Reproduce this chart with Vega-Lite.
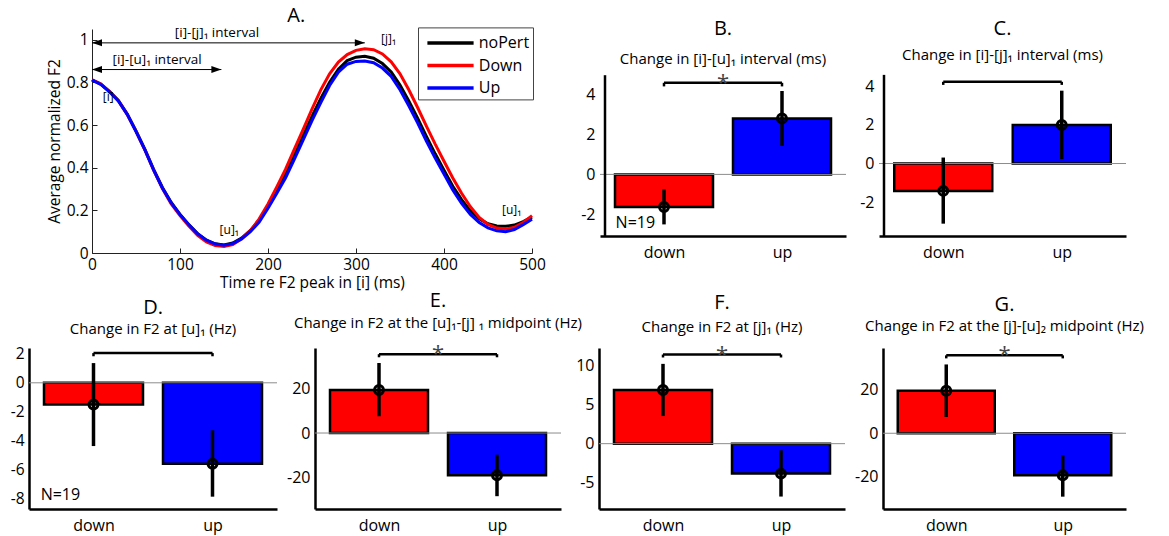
{
  "$schema": "https://vega.github.io/schema/vega-lite/v6.json",
  "autosize": {"type": "pad"},
  "padding": {"left": 10, "top": 5, "right": 5, "bottom": 5},
  "background": "white",
  "config": {
    "view": {"stroke": null},
    "font": "Open Sans",
    "axis": {"grid": false, "domainColor": "black", "domainWidth": 2.5, "ticks": false, "labelFontSize": 16, "labelColor": "black", "labelFont": "Open Sans", "labelPadding": 5, "labelOverlap": false, "titleFontWeight": "normal", "titleColor": "black", "titleFont": "Open Sans", "labelFlush": false},
    "title": {"font": "Open Sans", "fontSize": 20, "fontWeight": "normal", "color": "black", "subtitleFont": "Open Sans", "subtitleFontSize": 15, "subtitleColor": "black", "frame": "group"},
    "text": {"font": "Open Sans", "color": "black"}
  },
  "datasets": {
    "curves": [
      {"t": 0, "noPert": 0.812, "Down": 0.812, "Up": 0.81},
      {"t": 10, "noPert": 0.792, "Down": 0.792, "Up": 0.79},
      {"t": 20, "noPert": 0.757, "Down": 0.757, "Up": 0.755},
      {"t": 30, "noPert": 0.715, "Down": 0.713, "Up": 0.713},
      {"t": 40, "noPert": 0.652, "Down": 0.65, "Up": 0.65},
      {"t": 50, "noPert": 0.572, "Down": 0.57, "Up": 0.57},
      {"t": 60, "noPert": 0.487, "Down": 0.484, "Up": 0.485},
      {"t": 70, "noPert": 0.392, "Down": 0.388, "Up": 0.39},
      {"t": 80, "noPert": 0.307, "Down": 0.302, "Up": 0.305},
      {"t": 90, "noPert": 0.237, "Down": 0.23, "Up": 0.235},
      {"t": 100, "noPert": 0.181, "Down": 0.175, "Up": 0.18},
      {"t": 110, "noPert": 0.133, "Down": 0.126, "Up": 0.132},
      {"t": 120, "noPert": 0.091, "Down": 0.083, "Up": 0.09},
      {"t": 130, "noPert": 0.06, "Down": 0.052, "Up": 0.06},
      {"t": 140, "noPert": 0.043, "Down": 0.035, "Up": 0.042},
      {"t": 150, "noPert": 0.038, "Down": 0.031, "Up": 0.036},
      {"t": 160, "noPert": 0.047, "Down": 0.04, "Up": 0.044},
      {"t": 170, "noPert": 0.07, "Down": 0.066, "Up": 0.066},
      {"t": 180, "noPert": 0.106, "Down": 0.105, "Up": 0.1},
      {"t": 190, "noPert": 0.153, "Down": 0.16, "Up": 0.145},
      {"t": 200, "noPert": 0.22, "Down": 0.23, "Up": 0.21},
      {"t": 210, "noPert": 0.292, "Down": 0.31, "Up": 0.28},
      {"t": 220, "noPert": 0.37, "Down": 0.393, "Up": 0.353},
      {"t": 230, "noPert": 0.458, "Down": 0.487, "Up": 0.44},
      {"t": 240, "noPert": 0.55, "Down": 0.58, "Up": 0.53},
      {"t": 250, "noPert": 0.64, "Down": 0.675, "Up": 0.62},
      {"t": 260, "noPert": 0.725, "Down": 0.765, "Up": 0.705},
      {"t": 270, "noPert": 0.8, "Down": 0.84, "Up": 0.785},
      {"t": 280, "noPert": 0.862, "Down": 0.895, "Up": 0.848},
      {"t": 290, "noPert": 0.902, "Down": 0.93, "Up": 0.885},
      {"t": 300, "noPert": 0.918, "Down": 0.95, "Up": 0.898},
      {"t": 310, "noPert": 0.922, "Down": 0.957, "Up": 0.9},
      {"t": 320, "noPert": 0.913, "Down": 0.953, "Up": 0.892},
      {"t": 330, "noPert": 0.888, "Down": 0.933, "Up": 0.867},
      {"t": 340, "noPert": 0.848, "Down": 0.896, "Up": 0.828},
      {"t": 350, "noPert": 0.787, "Down": 0.84, "Up": 0.765},
      {"t": 360, "noPert": 0.713, "Down": 0.765, "Up": 0.69},
      {"t": 370, "noPert": 0.632, "Down": 0.682, "Up": 0.61},
      {"t": 380, "noPert": 0.547, "Down": 0.595, "Up": 0.525},
      {"t": 390, "noPert": 0.465, "Down": 0.51, "Up": 0.445},
      {"t": 400, "noPert": 0.388, "Down": 0.43, "Up": 0.37},
      {"t": 410, "noPert": 0.313, "Down": 0.352, "Up": 0.296},
      {"t": 420, "noPert": 0.25, "Down": 0.28, "Up": 0.233},
      {"t": 430, "noPert": 0.197, "Down": 0.217, "Up": 0.181},
      {"t": 440, "noPert": 0.16, "Down": 0.167, "Up": 0.143},
      {"t": 450, "noPert": 0.137, "Down": 0.134, "Up": 0.118},
      {"t": 460, "noPert": 0.127, "Down": 0.117, "Up": 0.104},
      {"t": 470, "noPert": 0.125, "Down": 0.112, "Up": 0.1},
      {"t": 480, "noPert": 0.131, "Down": 0.12, "Up": 0.11},
      {"t": 490, "noPert": 0.147, "Down": 0.143, "Up": 0.133},
      {"t": 500, "noPert": 0.168, "Down": 0.175, "Up": 0.158}
    ],
    "bars": [
      {"panel": "B", "cond": "down", "i": 1, "mean": -1.63, "lo": -2.5, "hi": -0.75},
      {"panel": "B", "cond": "up", "i": 2, "mean": 2.8, "lo": 1.42, "hi": 4.17},
      {"panel": "C", "cond": "down", "i": 1, "mean": -1.42, "lo": -3.12, "hi": 0.31},
      {"panel": "C", "cond": "up", "i": 2, "mean": 2.0, "lo": 0.23, "hi": 3.78},
      {"panel": "D", "cond": "down", "i": 1, "mean": -1.49, "lo": -4.36, "hi": 1.36},
      {"panel": "D", "cond": "up", "i": 2, "mean": -5.58, "lo": -7.85, "hi": -3.27},
      {"panel": "E", "cond": "down", "i": 1, "mean": 19.5, "lo": 7.6, "hi": 31.7},
      {"panel": "E", "cond": "up", "i": 2, "mean": -19.1, "lo": -28.6, "hi": -9.8},
      {"panel": "F", "cond": "down", "i": 1, "mean": 6.9, "lo": 3.55, "hi": 10.26},
      {"panel": "F", "cond": "up", "i": 2, "mean": -3.85, "lo": -6.8, "hi": -0.85},
      {"panel": "G", "cond": "down", "i": 1, "mean": 19.6, "lo": 7.5, "hi": 31.8},
      {"panel": "G", "cond": "up", "i": 2, "mean": -19.4, "lo": -29.3, "hi": -10.1}
    ],
    "brackets": [
      {"panel": "B", "top": 4.58, "foot": 4.4, "star": true},
      {"panel": "C", "top": 4.24, "foot": 4.08, "star": false},
      {"panel": "D", "top": 2.05, "foot": 1.83, "star": false},
      {"panel": "E", "top": 35.7, "foot": 34.3, "star": true},
      {"panel": "F", "top": 11.46, "foot": 11.08, "star": true},
      {"panel": "G", "top": 36.0, "foot": 34.6, "star": true}
    ]
  },
  "spacing": 319,
  "bounds": "flush",
  "resolve": {"scale": {"color": "independent"}, "legend": {"color": "independent"}},
  "vconcat": [
    {
      "spacing": 0,
      "bounds": "flush",
      "resolve": {"scale": {"color": "independent"}, "legend": {"color": "independent"}},
      "hconcat": [
        {"width": 63, "height": 10, "data": {"values": []}, "mark": "point"},
        {
          "width": 440,
          "height": 224,
          "title": {"text": "A.", "frame": "bounds", "offset": 0.8},
          "layer": [
            {
              "data": {"name": "curves"},
              "transform": [{"fold": ["noPert", "Down", "Up"], "as": ["cond", "v"]}],
              "mark": {"type": "line", "strokeWidth": 3},
              "encoding": {
                "x": {"field": "t", "type": "quantitative", "scale": {"domain": [0, 500], "nice": false, "zero": false},
                      "axis": {"values": [0, 100, 200, 300, 400, 500], "title": "Time re F2 peak in [i] (ms)", "titleFontSize": 15.5, "titlePadding": 3, "labelFontSize": 15.5, "labelOverlap": false, "domainWidth": 1, "domainColor": "#222", "ticks": true, "tickSize": -5, "tickColor": "#222", "labelPadding": 9}},
                "y": {"field": "v", "type": "quantitative", "scale": {"domain": [0, 1.05], "nice": false, "zero": false},
                      "axis": {"values": [0, 0.2, 0.4, 0.6, 0.8, 1], "labelExpr": "toString(datum.value)", "labelFontSize": 15.5, "labelOverlap": false, "title": "Average normalized F2", "titleFontSize": 15.5, "titlePadding": 4, "domainWidth": 1, "domainColor": "#222", "ticks": true, "tickSize": -5, "tickColor": "#222", "labelPadding": 9}},
                "color": {"field": "cond", "type": "nominal", "sort": null,
                          "scale": {"domain": ["noPert", "Down", "Up"], "range": ["#000000", "#ff0000", "#0000ff"]},
                          "legend": {"orient": "none", "legendX": 326, "legendY": -1.6, "title": null, "labelFontSize": 16, "labelFont": "Open Sans", "labelColor": "black", "strokeColor": "#444", "fillColor": "white", "padding": 3.2, "symbolType": "M-2.2,0L2.2,0", "symbolSize": 441, "symbolStrokeWidth": 3.5, "symbolOffset": 16.8, "labelOffset": 15.8, "rowPadding": 1.5}}
              }
            },
            {"data": {"values": [{}]}, "mark": {"type": "rule", "color": "black", "strokeWidth": 1},
             "encoding": {"x": {"datum": 0}, "x2": {"datum": 310}, "y": {"datum": 0.985}}},
            {"data": {"values": [{}]}, "mark": {"type": "rule", "color": "black", "strokeWidth": 1},
             "encoding": {"x": {"datum": 0}, "x2": {"datum": 147}, "y": {"datum": 0.86}}},
            {"data": {"values": [{}]}, "mark": {"type": "point", "shape": "M0,0L2,-0.7L2,0.7Z", "filled": true, "color": "black", "size": 100, "opacity": 1},
             "encoding": {"x": {"datum": 0}, "y": {"datum": 0.985}}},
            {"data": {"values": [{}]}, "mark": {"type": "point", "shape": "M0,0L-2,-0.7L-2,0.7Z", "filled": true, "color": "black", "size": 100, "opacity": 1},
             "encoding": {"x": {"datum": 310}, "y": {"datum": 0.985}}},
            {"data": {"values": [{}]}, "mark": {"type": "point", "shape": "M0,0L2,-0.7L2,0.7Z", "filled": true, "color": "black", "size": 100, "opacity": 1},
             "encoding": {"x": {"datum": 0}, "y": {"datum": 0.86}}},
            {"data": {"values": [{}]}, "mark": {"type": "point", "shape": "M0,0L-2,-0.7L-2,0.7Z", "filled": true, "color": "black", "size": 100, "opacity": 1},
             "encoding": {"x": {"datum": 147}, "y": {"datum": 0.86}}},
            {"data": {"values": [{}]}, "mark": {"type": "text", "text": "[i]-[j]₁ interval", "fontSize": 13.5, "align": "center", "baseline": "middle"},
             "encoding": {"x": {"datum": 142}, "y": {"datum": 1.029}}},
            {"data": {"values": [{}]}, "mark": {"type": "text", "text": "[i]-[u]₁ interval", "fontSize": 13.5, "align": "center", "baseline": "middle"},
             "encoding": {"x": {"datum": 74}, "y": {"datum": 0.904}}},
            {"data": {"values": [{}]}, "mark": {"type": "text", "text": "[i]", "fontSize": 12, "align": "center", "baseline": "middle"},
             "encoding": {"x": {"datum": 18.5}, "y": {"datum": 0.73}}},
            {"data": {"values": [{}]}, "mark": {"type": "text", "text": "[u]₁", "fontSize": 12, "align": "center", "baseline": "middle"},
             "encoding": {"x": {"datum": 156}, "y": {"datum": 0.107}}},
            {"data": {"values": [{}]}, "mark": {"type": "text", "text": "[j]₁", "fontSize": 12, "align": "center", "baseline": "middle"},
             "encoding": {"x": {"datum": 337}, "y": {"datum": 1.005}}},
            {"data": {"values": [{}]}, "mark": {"type": "text", "text": "[u]₁", "fontSize": 12, "align": "center", "baseline": "middle"},
             "encoding": {"x": {"datum": 477}, "y": {"datum": 0.2}}}
          ]
        },
        {"width": 68, "height": 10, "data": {"values": []}, "mark": "point"},
        {
          "width": 246, "height": 207,
          "title": {"text": "B.", "subtitle": "Change in [i]-[u]₁ interval (ms)", "offset": -37.5, "subtitlePadding": 13},
          "layer": [
            {"data": {"name": "bars"}, "transform": [{"filter": "datum.panel === 'B'"}],
             "mark": {"type": "bar", "size": 98, "stroke": "black", "strokeWidth": 2.5},
             "encoding": {
               "x": {"field": "i", "type": "quantitative", "scale": {"domain": [0.5, 2.5], "nice": false, "zero": false}, "axis": {"values": [1, 2], "labelExpr": "datum.value == 1 ? 'down' : 'up'", "title": null, "labelPadding": 8}},
               "y": {"field": "mean", "type": "quantitative", "scale": {"domain": [-3.08, 7.27], "nice": false, "zero": false}, "axis": {"values": [-2, 0, 2, 4], "labelExpr": "toString(datum.value)", "labelOverlap": false, "title": null, "domain": false}},
               "y2": {"datum": 0},
               "color": {"field": "cond", "type": "nominal", "scale": {"domain": ["down", "up"], "range": ["#ff0000", "#0000ff"]}, "legend": null}
             }},
            {"data": {"values": [{}]}, "mark": {"type": "rule", "color": "#8c8c8c", "strokeWidth": 1}, "encoding": {"y": {"datum": 0}}},
            {"data": {"values": [{}]}, "mark": {"type": "rule", "color": "black", "strokeWidth": 2.5}, "encoding": {"x": {"datum": 0.5}, "y": {"datum": -3.08}, "y2": {"datum": 4.96}}},
            {"data": {"name": "bars"}, "transform": [{"filter": "datum.panel === 'B'"}],
             "mark": {"type": "rule", "color": "black", "strokeWidth": 3.5},
             "encoding": {"x": {"field": "i", "type": "quantitative"}, "y": {"field": "lo", "type": "quantitative"}, "y2": {"field": "hi"}}},
            {"data": {"name": "bars"}, "transform": [{"filter": "datum.panel === 'B'"}],
             "mark": {"type": "point", "filled": false, "color": "black", "strokeWidth": 3, "size": 80, "opacity": 1},
             "encoding": {"x": {"field": "i", "type": "quantitative"}, "y": {"field": "mean", "type": "quantitative"}}},
            {"data": {"name": "brackets"}, "transform": [{"filter": "datum.panel === 'B'"}],
             "mark": {"type": "rule", "color": "black", "strokeWidth": 2.5},
             "encoding": {"x": {"datum": 1}, "x2": {"datum": 2}, "y": {"field": "top", "type": "quantitative"}}},
            {"data": {"name": "brackets"}, "transform": [{"filter": "datum.panel === 'B'"}],
             "mark": {"type": "rule", "color": "black", "strokeWidth": 2.5},
             "encoding": {"x": {"datum": 1}, "y": {"field": "top", "type": "quantitative"}, "y2": {"field": "foot"}}},
            {"data": {"name": "brackets"}, "transform": [{"filter": "datum.panel === 'B'"}],
             "mark": {"type": "rule", "color": "black", "strokeWidth": 2.5},
             "encoding": {"x": {"datum": 2}, "y": {"field": "top", "type": "quantitative"}, "y2": {"field": "foot"}}},
            {"data": {"name": "brackets"}, "transform": [{"filter": "datum.panel === 'B' && datum.star"}],
             "mark": {"type": "text", "text": "*", "fontSize": 22, "color": "#444", "align": "center", "baseline": "middle"},
             "encoding": {"x": {"datum": 1.5}, "y": {"field": "top", "type": "quantitative"}}},
            {"data": {"values": [{}]}, "mark": {"type": "text", "text": "N=19", "fontSize": 16, "align": "left", "baseline": "middle"},
             "encoding": {"x": {"datum": 0.59}, "y": {"datum": -2.44}}}
          ]
        },
        {"width": 33, "height": 10, "data": {"values": []}, "mark": "point"},
        {
          "width": 247, "height": 207,
          "title": {"text": "C.", "subtitle": "Change in [i]-[j]₁ interval (ms)", "offset": -34, "subtitlePadding": 9},
          "layer": [
            {"data": {"name": "bars"}, "transform": [{"filter": "datum.panel === 'C'"}],
             "mark": {"type": "bar", "size": 98, "stroke": "black", "strokeWidth": 2.5},
             "encoding": {
               "x": {"field": "i", "type": "quantitative", "scale": {"domain": [0.5, 2.5], "nice": false, "zero": false}, "axis": {"values": [1, 2], "labelExpr": "datum.value == 1 ? 'down' : 'up'", "title": null, "labelPadding": 8}},
               "y": {"field": "mean", "type": "quantitative", "scale": {"domain": [-3.76, 6.98], "nice": false, "zero": false}, "axis": {"values": [-2, 0, 2, 4], "labelExpr": "toString(datum.value)", "labelOverlap": false, "title": null, "domain": false}},
               "y2": {"datum": 0},
               "color": {"field": "cond", "type": "nominal", "scale": {"domain": ["down", "up"], "range": ["#ff0000", "#0000ff"]}, "legend": null}
             }},
            {"data": {"values": [{}]}, "mark": {"type": "rule", "color": "#8c8c8c", "strokeWidth": 1}, "encoding": {"y": {"datum": 0}}},
            {"data": {"values": [{}]}, "mark": {"type": "rule", "color": "black", "strokeWidth": 2.5}, "encoding": {"x": {"datum": 0.5}, "y": {"datum": -3.76}, "y2": {"datum": 4.6}}},
            {"data": {"name": "bars"}, "transform": [{"filter": "datum.panel === 'C'"}],
             "mark": {"type": "rule", "color": "black", "strokeWidth": 3.5},
             "encoding": {"x": {"field": "i", "type": "quantitative"}, "y": {"field": "lo", "type": "quantitative"}, "y2": {"field": "hi"}}},
            {"data": {"name": "bars"}, "transform": [{"filter": "datum.panel === 'C'"}],
             "mark": {"type": "point", "filled": false, "color": "black", "strokeWidth": 3, "size": 80, "opacity": 1},
             "encoding": {"x": {"field": "i", "type": "quantitative"}, "y": {"field": "mean", "type": "quantitative"}}},
            {"data": {"name": "brackets"}, "transform": [{"filter": "datum.panel === 'C'"}],
             "mark": {"type": "rule", "color": "black", "strokeWidth": 2.5},
             "encoding": {"x": {"datum": 1}, "x2": {"datum": 2}, "y": {"field": "top", "type": "quantitative"}}},
            {"data": {"name": "brackets"}, "transform": [{"filter": "datum.panel === 'C'"}],
             "mark": {"type": "rule", "color": "black", "strokeWidth": 2.5},
             "encoding": {"x": {"datum": 1}, "y": {"field": "top", "type": "quantitative"}, "y2": {"field": "foot"}}},
            {"data": {"name": "brackets"}, "transform": [{"filter": "datum.panel === 'C'"}],
             "mark": {"type": "rule", "color": "black", "strokeWidth": 2.5},
             "encoding": {"x": {"datum": 2}, "y": {"field": "top", "type": "quantitative"}, "y2": {"field": "foot"}}}
          ]
        }
      ]
    },
    {
      "spacing": 38,
      "bounds": "flush",
      "resolve": {"scale": {"color": "independent"}, "legend": {"color": "independent"}},
      "hconcat": [
        {
          "width": 248, "height": 161,
          "title": {"text": "D.", "subtitle": "Change in F2 at [u]₁ (Hz)", "offset": 10, "subtitlePadding": 4},
          "layer": [
            {"data": {"name": "bars"}, "transform": [{"filter": "datum.panel === 'D'"}],
             "mark": {"type": "bar", "size": 99, "stroke": "black", "strokeWidth": 2.5},
             "encoding": {
               "x": {"field": "i", "type": "quantitative", "scale": {"domain": [0.5, 2.5], "nice": false, "zero": false}, "axis": {"values": [1, 2], "labelExpr": "datum.value == 1 ? 'down' : 'up'", "title": null, "labelPadding": 8}},
               "y": {"field": "mean", "type": "quantitative", "scale": {"domain": [-8.7, 2.4], "nice": false, "zero": false}, "axis": {"values": [-8, -6, -4, -2, 0, 2], "labelExpr": "toString(datum.value)", "labelOverlap": false, "labelFontSize": 15.5, "title": null}},
               "y2": {"datum": 0},
               "color": {"field": "cond", "type": "nominal", "scale": {"domain": ["down", "up"], "range": ["#ff0000", "#0000ff"]}, "legend": null}
             }},
            {"data": {"values": [{}]}, "mark": {"type": "rule", "color": "#8c8c8c", "strokeWidth": 1}, "encoding": {"y": {"datum": 0, "axis": {"values": [-8, -6, -4, -2, 0, 2], "labelExpr": "toString(datum.value)", "labelOverlap": false, "labelFontSize": 15.5, "title": null}}}},
            {"data": {"name": "bars"}, "transform": [{"filter": "datum.panel === 'D'"}],
             "mark": {"type": "rule", "color": "black", "strokeWidth": 3.5},
             "encoding": {"x": {"field": "i", "type": "quantitative"}, "y": {"field": "lo", "type": "quantitative", "axis": {"values": [-8, -6, -4, -2, 0, 2], "labelExpr": "toString(datum.value)", "labelOverlap": false, "labelFontSize": 15.5, "title": null}}, "y2": {"field": "hi"}}},
            {"data": {"name": "bars"}, "transform": [{"filter": "datum.panel === 'D'"}],
             "mark": {"type": "point", "filled": false, "color": "black", "strokeWidth": 3, "size": 80, "opacity": 1},
             "encoding": {"x": {"field": "i", "type": "quantitative"}, "y": {"field": "mean", "type": "quantitative", "axis": {"values": [-8, -6, -4, -2, 0, 2], "labelExpr": "toString(datum.value)", "labelOverlap": false, "labelFontSize": 15.5, "title": null}}}},
            {"data": {"name": "brackets"}, "transform": [{"filter": "datum.panel === 'D'"}],
             "mark": {"type": "rule", "color": "black", "strokeWidth": 2.5},
             "encoding": {"x": {"datum": 1}, "x2": {"datum": 2}, "y": {"field": "top", "type": "quantitative", "axis": {"values": [-8, -6, -4, -2, 0, 2], "labelExpr": "toString(datum.value)", "labelOverlap": false, "labelFontSize": 15.5, "title": null}}}},
            {"data": {"name": "brackets"}, "transform": [{"filter": "datum.panel === 'D'"}],
             "mark": {"type": "rule", "color": "black", "strokeWidth": 2.5},
             "encoding": {"x": {"datum": 1}, "y": {"field": "top", "type": "quantitative", "axis": {"values": [-8, -6, -4, -2, 0, 2], "labelExpr": "toString(datum.value)", "labelOverlap": false, "labelFontSize": 15.5, "title": null}}, "y2": {"field": "foot"}}},
            {"data": {"name": "brackets"}, "transform": [{"filter": "datum.panel === 'D'"}],
             "mark": {"type": "rule", "color": "black", "strokeWidth": 2.5},
             "encoding": {"x": {"datum": 2}, "y": {"field": "top", "type": "quantitative", "axis": {"values": [-8, -6, -4, -2, 0, 2], "labelExpr": "toString(datum.value)", "labelOverlap": false, "labelFontSize": 15.5, "title": null}}, "y2": {"field": "foot"}}},
            {"data": {"values": [{}]}, "mark": {"type": "text", "text": "N=19", "fontSize": 16, "align": "left", "baseline": "middle"},
             "encoding": {"x": {"datum": 0.556}, "y": {"datum": -7.74, "axis": {"values": [-8, -6, -4, -2, 0, 2], "labelExpr": "toString(datum.value)", "labelOverlap": false, "labelFontSize": 15.5, "title": null}}}}
          ]
        },
        {
          "width": 246, "height": 161,
          "title": {"text": "E.", "subtitle": "Change in F2 at the [u]₁-[j] ₁ midpoint (Hz)", "offset": 12, "subtitlePadding": 5},
          "layer": [
            {"data": {"name": "bars"}, "transform": [{"filter": "datum.panel === 'E'"}],
             "mark": {"type": "bar", "size": 98, "stroke": "black", "strokeWidth": 2.5},
             "encoding": {
               "x": {"field": "i", "type": "quantitative", "scale": {"domain": [0.5, 2.5], "nice": false, "zero": false}, "axis": {"values": [1, 2], "labelExpr": "datum.value == 1 ? 'down' : 'up'", "title": null, "labelPadding": 8}},
               "y": {"field": "mean", "type": "quantitative", "scale": {"domain": [-34.4, 38.5], "nice": false, "zero": false}, "axis": {"values": [-20, 0, 20], "labelExpr": "toString(datum.value)", "labelOverlap": false, "title": null}},
               "y2": {"datum": 0},
               "color": {"field": "cond", "type": "nominal", "scale": {"domain": ["down", "up"], "range": ["#ff0000", "#0000ff"]}, "legend": null}
             }},
            {"data": {"values": [{}]}, "mark": {"type": "rule", "color": "#8c8c8c", "strokeWidth": 1}, "encoding": {"y": {"datum": 0}}},
            {"data": {"name": "bars"}, "transform": [{"filter": "datum.panel === 'E'"}],
             "mark": {"type": "rule", "color": "black", "strokeWidth": 3.5},
             "encoding": {"x": {"field": "i", "type": "quantitative"}, "y": {"field": "lo", "type": "quantitative"}, "y2": {"field": "hi"}}},
            {"data": {"name": "bars"}, "transform": [{"filter": "datum.panel === 'E'"}],
             "mark": {"type": "point", "filled": false, "color": "black", "strokeWidth": 3, "size": 80, "opacity": 1},
             "encoding": {"x": {"field": "i", "type": "quantitative"}, "y": {"field": "mean", "type": "quantitative"}}},
            {"data": {"name": "brackets"}, "transform": [{"filter": "datum.panel === 'E'"}],
             "mark": {"type": "rule", "color": "black", "strokeWidth": 2.5},
             "encoding": {"x": {"datum": 1}, "x2": {"datum": 2}, "y": {"field": "top", "type": "quantitative"}}},
            {"data": {"name": "brackets"}, "transform": [{"filter": "datum.panel === 'E'"}],
             "mark": {"type": "rule", "color": "black", "strokeWidth": 2.5},
             "encoding": {"x": {"datum": 1}, "y": {"field": "top", "type": "quantitative"}, "y2": {"field": "foot"}}},
            {"data": {"name": "brackets"}, "transform": [{"filter": "datum.panel === 'E'"}],
             "mark": {"type": "rule", "color": "black", "strokeWidth": 2.5},
             "encoding": {"x": {"datum": 2}, "y": {"field": "top", "type": "quantitative"}, "y2": {"field": "foot"}}},
            {"data": {"name": "brackets"}, "transform": [{"filter": "datum.panel === 'E' && datum.star"}],
             "mark": {"type": "text", "text": "*", "fontSize": 22, "color": "#444", "align": "center", "baseline": "middle"},
             "encoding": {"x": {"datum": 1.5}, "y": {"field": "top", "type": "quantitative"}}}
          ]
        },
        {
          "width": 246, "height": 161,
          "title": {"text": "F.", "subtitle": "Change in F2 at [j]₁ (Hz)", "offset": 9, "subtitlePadding": 7},
          "layer": [
            {"data": {"name": "bars"}, "transform": [{"filter": "datum.panel === 'F'"}],
             "mark": {"type": "bar", "size": 98, "stroke": "black", "strokeWidth": 2.5},
             "encoding": {
               "x": {"field": "i", "type": "quantitative", "scale": {"domain": [0.5, 2.5], "nice": false, "zero": false}, "axis": {"values": [1, 2], "labelExpr": "datum.value == 1 ? 'down' : 'up'", "title": null, "labelPadding": 8}},
               "y": {"field": "mean", "type": "quantitative", "scale": {"domain": [-8.4, 12.3], "nice": false, "zero": false}, "axis": {"values": [-5, 0, 5, 10], "labelExpr": "toString(datum.value)", "labelOverlap": false, "title": null}},
               "y2": {"datum": 0},
               "color": {"field": "cond", "type": "nominal", "scale": {"domain": ["down", "up"], "range": ["#ff0000", "#0000ff"]}, "legend": null}
             }},
            {"data": {"values": [{}]}, "mark": {"type": "rule", "color": "#8c8c8c", "strokeWidth": 1}, "encoding": {"y": {"datum": 0}}},
            {"data": {"name": "bars"}, "transform": [{"filter": "datum.panel === 'F'"}],
             "mark": {"type": "rule", "color": "black", "strokeWidth": 3.5},
             "encoding": {"x": {"field": "i", "type": "quantitative"}, "y": {"field": "lo", "type": "quantitative"}, "y2": {"field": "hi"}}},
            {"data": {"name": "bars"}, "transform": [{"filter": "datum.panel === 'F'"}],
             "mark": {"type": "point", "filled": false, "color": "black", "strokeWidth": 3, "size": 80, "opacity": 1},
             "encoding": {"x": {"field": "i", "type": "quantitative"}, "y": {"field": "mean", "type": "quantitative"}}},
            {"data": {"name": "brackets"}, "transform": [{"filter": "datum.panel === 'F'"}],
             "mark": {"type": "rule", "color": "black", "strokeWidth": 2.5},
             "encoding": {"x": {"datum": 1}, "x2": {"datum": 2}, "y": {"field": "top", "type": "quantitative"}}},
            {"data": {"name": "brackets"}, "transform": [{"filter": "datum.panel === 'F'"}],
             "mark": {"type": "rule", "color": "black", "strokeWidth": 2.5},
             "encoding": {"x": {"datum": 1}, "y": {"field": "top", "type": "quantitative"}, "y2": {"field": "foot"}}},
            {"data": {"name": "brackets"}, "transform": [{"filter": "datum.panel === 'F'"}],
             "mark": {"type": "rule", "color": "black", "strokeWidth": 2.5},
             "encoding": {"x": {"datum": 2}, "y": {"field": "top", "type": "quantitative"}, "y2": {"field": "foot"}}},
            {"data": {"name": "brackets"}, "transform": [{"filter": "datum.panel === 'F' && datum.star"}],
             "mark": {"type": "text", "text": "*", "fontSize": 22, "color": "#444", "align": "center", "baseline": "middle"},
             "encoding": {"x": {"datum": 1.5}, "y": {"field": "top", "type": "quantitative"}}}
          ]
        },
        {
          "width": 243, "height": 161,
          "title": {"text": "G.", "subtitle": "Change in F2 at the [j]-[u]₂ midpoint (Hz)", "offset": 10, "subtitlePadding": 4},
          "layer": [
            {"data": {"name": "bars"}, "transform": [{"filter": "datum.panel === 'G'"}],
             "mark": {"type": "bar", "size": 97, "stroke": "black", "strokeWidth": 2.5},
             "encoding": {
               "x": {"field": "i", "type": "quantitative", "scale": {"domain": [0.5, 2.5], "nice": false, "zero": false}, "axis": {"values": [1, 2], "labelExpr": "datum.value == 1 ? 'down' : 'up'", "title": null, "labelPadding": 8}},
               "y": {"field": "mean", "type": "quantitative", "scale": {"domain": [-35, 39.4], "nice": false, "zero": false}, "axis": {"values": [-20, 0, 20], "labelExpr": "toString(datum.value)", "labelOverlap": false, "title": null}},
               "y2": {"datum": 0},
               "color": {"field": "cond", "type": "nominal", "scale": {"domain": ["down", "up"], "range": ["#ff0000", "#0000ff"]}, "legend": null}
             }},
            {"data": {"values": [{}]}, "mark": {"type": "rule", "color": "#8c8c8c", "strokeWidth": 1}, "encoding": {"y": {"datum": 0}}},
            {"data": {"name": "bars"}, "transform": [{"filter": "datum.panel === 'G'"}],
             "mark": {"type": "rule", "color": "black", "strokeWidth": 3.5},
             "encoding": {"x": {"field": "i", "type": "quantitative"}, "y": {"field": "lo", "type": "quantitative"}, "y2": {"field": "hi"}}},
            {"data": {"name": "bars"}, "transform": [{"filter": "datum.panel === 'G'"}],
             "mark": {"type": "point", "filled": false, "color": "black", "strokeWidth": 3, "size": 80, "opacity": 1},
             "encoding": {"x": {"field": "i", "type": "quantitative"}, "y": {"field": "mean", "type": "quantitative"}}},
            {"data": {"name": "brackets"}, "transform": [{"filter": "datum.panel === 'G'"}],
             "mark": {"type": "rule", "color": "black", "strokeWidth": 2.5},
             "encoding": {"x": {"datum": 1}, "x2": {"datum": 2}, "y": {"field": "top", "type": "quantitative"}}},
            {"data": {"name": "brackets"}, "transform": [{"filter": "datum.panel === 'G'"}],
             "mark": {"type": "rule", "color": "black", "strokeWidth": 2.5},
             "encoding": {"x": {"datum": 1}, "y": {"field": "top", "type": "quantitative"}, "y2": {"field": "foot"}}},
            {"data": {"name": "brackets"}, "transform": [{"filter": "datum.panel === 'G'"}],
             "mark": {"type": "rule", "color": "black", "strokeWidth": 2.5},
             "encoding": {"x": {"datum": 2}, "y": {"field": "top", "type": "quantitative"}, "y2": {"field": "foot"}}},
            {"data": {"name": "brackets"}, "transform": [{"filter": "datum.panel === 'G' && datum.star"}],
             "mark": {"type": "text", "text": "*", "fontSize": 22, "color": "#444", "align": "center", "baseline": "middle"},
             "encoding": {"x": {"datum": 1.5}, "y": {"field": "top", "type": "quantitative"}}}
          ]
        }
      ]
    }
  ]
}
